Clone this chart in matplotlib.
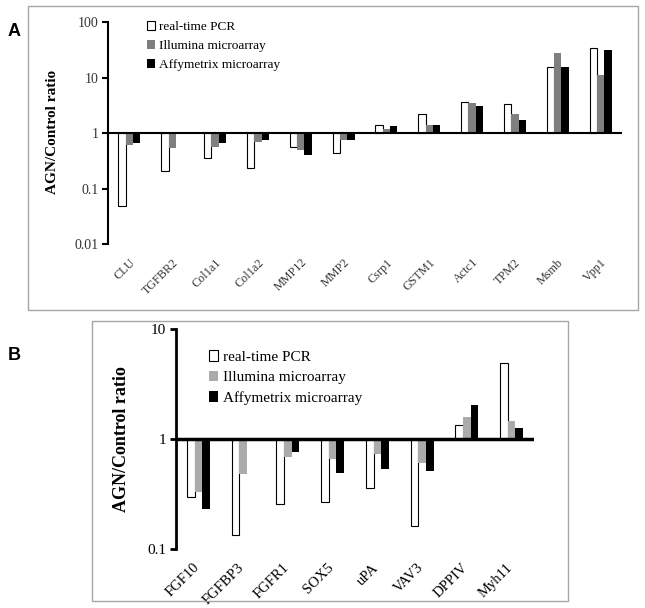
import numpy as np
import matplotlib
matplotlib.use("Agg")
import matplotlib.pyplot as plt
import matplotlib.transforms as mtransforms
from matplotlib.patches import Rectangle, Patch

# panel A data
genes_a = ["CLU", "TGFBR2", "Col1a1", "Col1a2", "MMP12", "MMP2",
           "Csrp1", "GSTM1", "Actc1", "TPM2", "Msmb", "Vpp1"]
pcr_a = [0.048, 0.206, 0.36, 0.23, 0.57, 0.43, 1.39, 2.2, 3.6, 3.37, 15.2, 34.0]
illumina_a = [0.61, 0.53, 0.56, 0.69, 0.50, 0.76, 1.18, 1.41, 3.5, 2.16, 27.6, 10.9]
affy_a = [0.66, np.nan, 0.67, 0.76, 0.40, 0.76, 1.35, 1.41, 3.1, 1.74, 15.2, 30.8]
yticks_a = [0.01, 0.1, 1, 10, 100]
ytick_labels_a = ["0.01", "0.1", "1", "10", "100"]

# panel B data
genes_b = ["FGF10", "FGFBP3", "FGFR1", "SOX5", "uPA", "VAV3", "DPPIV", "Myh11"]
pcr_b = [0.30, 0.133, 0.255, 0.27, 0.355, 0.163, 1.33, 4.9]
illumina_b = [0.33, 0.48, 0.69, 0.66, 0.73, 0.60, 1.58, 1.45]
affy_b = [0.23, np.nan, 0.76, 0.49, 0.53, 0.51, 2.02, 1.25]
yticks_b = [0.1, 1, 10]
ytick_labels_b = ["0.1", "1", "10"]

series_names = ["real-time PCR", "Illumina microarray", "Affymetrix microarray"]

W, H = 645, 608
SERIF = "Liberation Serif"


def fx(px):
    return px / W


def fy(py):
    return 1 - py / H


def draw_panel(fig, rect, genes, data, gray, yticks, ylabels, ylim,
               tick_size, xtick_size, tick_color, spine_lw, base_lw, xshift):
    ax = fig.add_axes(rect)
    ax.set_yscale("log")
    x = np.arange(len(genes))
    w = 0.17
    colors = ["white", gray, "black"]
    for k, vals in enumerate(data):
        vals = np.array(vals, dtype=float)
        ok = ~np.isnan(vals)
        ax.bar(x[ok] + (k - 1) * w, vals[ok] - 1, bottom=1, width=w,
               color=colors[k], edgecolor="black" if k == 0 else "none",
               linewidth=0.8 if k == 0 else 0, zorder=2)
    ax.axhline(1, color="black", lw=base_lw, zorder=3)
    ax.set_xlim(-0.5, len(genes) - 0.5)
    ax.set_ylim(*ylim)
    for s in ["top", "right", "bottom"]:
        ax.spines[s].set_visible(False)
    ax.spines["left"].set_linewidth(spine_lw)
    ax.set_yticks(yticks)
    ax.set_yticklabels(ylabels, fontfamily=SERIF, fontsize=tick_size, color=tick_color)
    ax.minorticks_off()
    ax.tick_params(axis="y", length=4, width=spine_lw, pad=3)
    ax.set_xticks(x)
    ax.set_xticklabels(genes, rotation=45, ha="right", va="center",
                       rotation_mode="anchor", fontfamily=SERIF,
                       fontsize=xtick_size, color=tick_color)
    ax.tick_params(axis="x", length=0, pad=12)
    # nudge the rotated labels sideways
    shift = mtransforms.ScaledTranslation(xshift / 100, 0, fig.dpi_scale_trans)
    for lab in ax.get_xticklabels():
        lab.set_transform(lab.get_transform() + shift)
    return ax


fig = plt.figure(figsize=(W / 100, H / 100), dpi=100)

# frames around the two panels
fig.add_artist(Rectangle((fx(28), fy(310)), fx(610), 304 / H, transform=fig.transFigure,
                         fill=False, edgecolor="#a6a6a6", lw=1))
fig.add_artist(Rectangle((fx(92), fy(601)), fx(476), 280 / H, transform=fig.transFigure,
                         fill=False, edgecolor="#a6a6a6", lw=1))

# panel A
ax_a = draw_panel(fig, [fx(108), fy(244), fx(514), 222 / H], genes_a,
                  [pcr_a, illumina_a, affy_a], "#7f7f7f", yticks_a, ytick_labels_a,
                  (0.01, 100), 10, 8.7, "#333333", 1.5, 1.5, 4)
fig.text(fx(53), fy(132), "AGN/Control ratio", rotation=90, ha="center", va="center",
         fontfamily=SERIF, fontweight="bold", fontsize=11)
fig.text(fx(14), fy(32), "A", ha="center", va="center", fontfamily="Liberation Sans",
         fontweight="bold", fontsize=13)
handles_a = [Patch(facecolor=c, edgecolor=e, lw=0.8)
             for c, e in [("white", "black"), ("#7f7f7f", "none"), ("black", "none")]]
fig.legend(handles_a, series_names, loc="upper left", bbox_to_anchor=(fx(147), fy(21)),
           frameon=False, borderpad=0, borderaxespad=0, handlelength=0.6,
           handleheight=0.7, handletextpad=0.3, labelspacing=0.5,
           prop={"family": SERIF, "size": 9.5})

# panel B
ax_b = draw_panel(fig, [fx(176), fy(549), fx(358), 220 / H], genes_b,
                  [pcr_b, illumina_b, affy_b], "#ababab", yticks_b, ytick_labels_b,
                  (0.1, 10), 11, 10.5, "black", 2, 2.5, -1)
fig.text(fx(121), fy(439), "AGN/Control ratio", rotation=90, ha="center", va="center",
         fontfamily=SERIF, fontweight="bold", fontsize=13)
fig.text(fx(14), fy(355), "B", ha="center", va="center", fontfamily="Liberation Sans",
         fontweight="bold", fontsize=13)
handles_b = [Patch(facecolor=c, edgecolor=e, lw=0.8)
             for c, e in [("white", "black"), ("#ababab", "none"), ("black", "none")]]
fig.legend(handles_b, series_names, loc="upper left", bbox_to_anchor=(fx(209), fy(350)),
           frameon=False, borderpad=0, borderaxespad=0, handlelength=0.6,
           handleheight=0.7, handletextpad=0.3, labelspacing=0.45,
           prop={"family": SERIF, "size": 11})

fig.savefig("out.png", dpi=100)
